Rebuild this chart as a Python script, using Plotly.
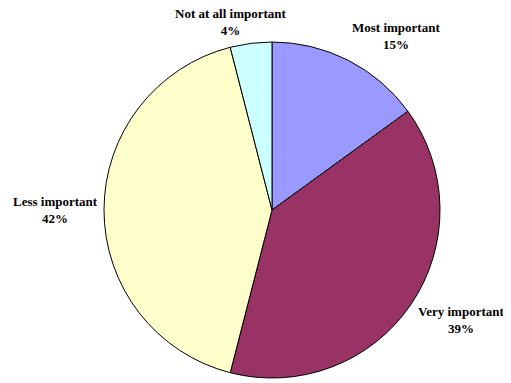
import plotly.graph_objects as go

labels = ["Most important", "Very important", "Less important", "Not at all important"]
values = [15, 39, 42, 4]
colors = ["#9999FF", "#993366", "#FFFFCC", "#CCFFFF"]

# page body has an 8px margin; figure placed so that it fills the window
OFF = 8
W, H = 511 - OFF, 383 - OFF
# label centre positions in window pixels (layout only)
label_pos = [(396, 36), (461, 320), (55, 210), (231, 22)]

fig = go.Figure(go.Pie(
    labels=labels, values=values, sort=False, direction="clockwise", rotation=0,
    marker=dict(colors=colors, line=dict(color="black", width=1)),
    textinfo="none", hoverinfo="label+percent", showlegend=False,
    domain=dict(x=[(104 - OFF) / W, (440 - OFF) / W],
                y=[1 - (378 - OFF) / H, 1 - (42 - OFF) / H]),
))

total = sum(values)
for lab, v, (px, py) in zip(labels, values, label_pos):
    fig.add_annotation(
        x=(px - OFF) / W, y=1 - (py - OFF) / H, xref="paper", yref="paper",
        text=f"<b>{lab}<br>{round(v / total * 100)}%</b>",
        showarrow=False, xanchor="center", yanchor="middle", align="center",
        font=dict(family="Liberation Serif", size=13, color="black"),
    )

fig.update_layout(
    width=W, height=H, margin=dict(l=0, r=0, t=0, b=0),
    paper_bgcolor="white", plot_bgcolor="white",
)
fig.write_html("out.html")
